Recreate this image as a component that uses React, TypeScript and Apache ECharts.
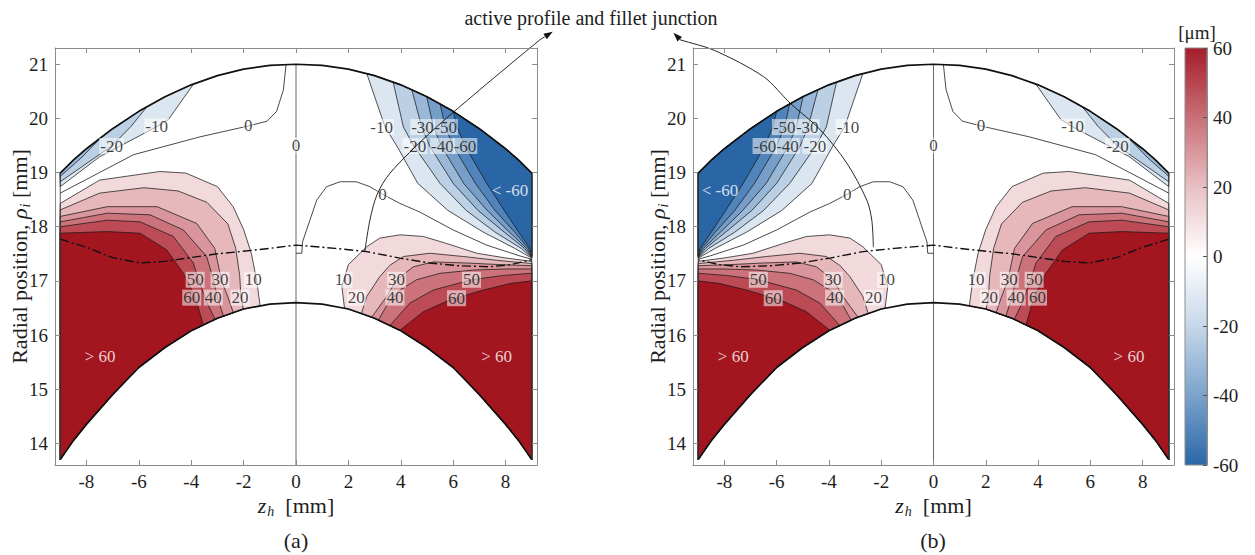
import React, { useEffect, useRef } from 'react';
import * as echarts from 'echarts';

const FONT = 'Liberation Serif';
const INK = '#1e1e1e';
const FRAME = '#8c8c8c';

// ---------- axes ----------
const xTickValues = [-8, -6, -4, -2, 0, 2, 4, 6, 8];
const yTickValues = [14, 15, 16, 17, 18, 19, 20, 21];
const xRange = [-9.2, 9.2];
const yRange = [13.6, 21.3];
const colorbarRange = [-60, 60];
const colorbarStops = ['#a51d2b', '#c96f77', '#e8c0c4', '#ffffff', '#c7d7ea', '#7ba3cb', '#2b67a8'];

// ---------- tooth outline ----------
const topArc = [[-9, 18.99], [-8.5, 19.23], [-8, 19.44], [-7, 19.81], [-6, 20.13], [-5, 20.4], [-4, 20.62], [-3, 20.79], [-2, 20.91], [-1, 20.98], [0, 21.0], [1, 20.98], [2, 20.91], [3, 20.79], [4, 20.62], [5, 20.4], [6, 20.13], [7, 19.81], [8, 19.44], [8.5, 19.23], [9, 18.99]];
const bottomArc = [[-9, 13.7], [-8.5, 14.05], [-8, 14.35], [-7, 14.9], [-6, 15.4], [-5, 15.77], [-4, 16.08], [-3, 16.31], [-2, 16.48], [-1, 16.57], [0, 16.6], [1, 16.57], [2, 16.48], [3, 16.31], [4, 16.08], [5, 15.77], [6, 15.4], [7, 14.9], [8, 14.35], [8.5, 14.05], [9, 13.7]];
const leftEdge = [[-9, 18.99], [-9, 13.7]];
const rightEdge = [[9, 18.99], [9, 13.7]];
const centreLine = [[0, 21.0], [0, 13.6]];

// ---------- contour levels and fills ----------
const redLevels = [10, 20, 30, 40, 50, 60];
const redFills = ['#f2d9dc', '#e6b7bb', '#d9959b', '#cc727a', '#bd4b56', '#a3151f'];
const blueLevels = [-10, -20, -30, -40, -50, -60];
const blueFills = ['#dbe6f1', '#bcd0e5', '#99b8d8', '#769ec9', '#5184ba', '#2a65a6'];

// ---------- panel (a) contour lines ----------
// left flank, positive levels: left edge -> root arc
const aLeftRed10 = [[-9, 18.43], [-7.5, 18.86], [-5.2, 19.02], [-4.2, 18.99], [-3.0, 18.74], [-2.4, 18.37], [-2.0, 17.95], [-1.7, 17.5], [-1.5, 17.0], [-1.37, 16.54]];
const aLeftRed20 = [[-9, 18.31], [-7.5, 18.62], [-5.8, 18.72], [-4.5, 18.66], [-3.4, 18.45], [-2.6, 18.05], [-2.3, 17.6], [-2.15, 17.1], [-2.1, 16.7], [-2.01, 16.48]];
const aLeftRed30 = [[-9, 18.19], [-7.2, 18.37], [-5.3, 18.37], [-3.79, 18.06], [-3.1, 17.6], [-2.85, 17.02], [-2.6, 16.7], [-2.39, 16.41]];
const aLeftRed40 = [[-9, 18.09], [-7.2, 18.25], [-5.57, 18.22], [-4.3, 17.94], [-3.41, 17.45], [-3.15, 17.02], [-3.0, 16.7], [-2.77, 16.35]];
const aLeftRed50 = [[-9, 18.0], [-7.2, 18.12], [-5.95, 18.09], [-4.68, 17.82], [-3.92, 17.33], [-3.72, 17.02], [-3.4, 16.6], [-3.09, 16.29]];
const aLeftRed60 = [[-9, 17.88], [-7.2, 17.91], [-5.95, 17.88], [-4.93, 17.57], [-4.3, 17.14], [-3.85, 16.71], [-3.54, 16.19]];
// left flank, negative levels: left edge -> tip arc
const aLeftBlue10 = [[-9, 18.74], [-7.5, 19.29], [-5.3, 19.85], [-4.87, 19.98], [-4.4, 20.3], [-3.92, 20.63]];
const aLeftBlue20 = [[-9, 18.83], [-7.9, 19.2], [-7.04, 19.49], [-6.3, 19.85], [-5.7, 20.21]];
const aLeftBlue30 = [[-9, 18.93], [-8.2, 19.27], [-7.48, 19.63]];
// right flank, positive levels: root arc -> right edge
const aRightRed10 = [[1.85, 16.5], [1.75, 16.9], [2.0, 17.3], [2.7, 17.63], [3.2, 17.79], [3.97, 17.85], [4.86, 17.82], [5.75, 17.69], [6.9, 17.51], [8.04, 17.42], [9, 17.36]];
const aRightRed20 = [[2.5, 16.4], [2.7, 16.71], [3.2, 17.08], [3.59, 17.29], [4.1, 17.45], [5.11, 17.51], [6.39, 17.45], [7.66, 17.38], [9, 17.32]];
const aRightRed30 = [[2.89, 16.33], [3.46, 16.71], [3.84, 17.02], [4.48, 17.26], [5.24, 17.35], [6.51, 17.33], [7.79, 17.3], [9, 17.28]];
const aRightRed40 = [[3.14, 16.27], [3.59, 16.65], [3.97, 16.83], [4.6, 17.02], [5.5, 17.14], [6.77, 17.2], [8.04, 17.22], [9, 17.22]];
const aRightRed50 = [[3.59, 16.18], [4.35, 16.59], [5.24, 16.83], [6.7, 17.02], [7.91, 17.1], [9, 17.14]];
const aRightRed60 = [[3.97, 16.09], [4.86, 16.43], [5.88, 16.65], [7.15, 16.83], [8.17, 16.95], [9, 17.0]];
// right flank, negative levels: tip arc -> right edge
const aRightBlue10 = [[2.7, 20.83], [3.4, 19.84], [3.85, 19.49], [4.65, 18.8], [5.8, 18.3], [7.15, 17.9], [8.35, 17.6], [9, 17.42]];
const aRightBlue20 = [[3.71, 20.67], [4.1, 19.84], [4.5, 19.49], [5.5, 18.8], [6.5, 18.3], [7.6, 17.9], [8.6, 17.6], [9, 17.43]];
const aRightBlue30 = [[4.42, 20.53], [4.8, 19.84], [5.1, 19.49], [6.0, 18.8], [6.95, 18.3], [7.95, 17.9], [8.72, 17.6], [9, 17.44]];
const aRightBlue40 = [[4.99, 20.4], [5.25, 19.84], [5.55, 19.49], [6.4, 18.8], [7.3, 18.3], [8.15, 17.9], [8.8, 17.6], [9, 17.45]];
const aRightBlue50 = [[5.5, 20.27], [5.7, 19.84], [6.0, 19.49], [6.85, 18.8], [7.6, 18.3], [8.35, 17.9], [8.87, 17.6], [9, 17.46]];
const aRightBlue60 = [[6.0, 20.13], [6.15, 19.84], [6.45, 19.49], [7.28, 18.8], [7.95, 18.3], [8.5, 17.9], [8.93, 17.6], [9, 17.47]];
// zero contours (no fill)
const aZeroLeft = [[-0.38, 20.99], [-0.48, 20.53], [-0.74, 20.13], [-1.1, 19.95], [-1.82, 19.86], [-3.66, 19.66], [-6.2, 19.33], [-9, 18.62]];
const aZeroRight = [[0, 17.51], [0.22, 17.51], [0.25, 17.72], [0.53, 18.12], [0.79, 18.49], [1.17, 18.74], [1.68, 18.83], [2.3, 18.83], [2.82, 18.74], [3.3, 18.6], [3.97, 18.43], [4.73, 18.27], [6.0, 17.94], [7.28, 17.66], [8.55, 17.46], [9, 17.4]];
// active profile / fillet junction (dash-dot)
const aJunction = [[-9, 17.77], [-8, 17.62], [-7, 17.43], [-5.95, 17.33], [-5, 17.36], [-4.17, 17.42], [-3, 17.5], [-2.14, 17.54], [-1, 17.6], [0, 17.66], [1.5, 17.6], [2.7, 17.54], [3.97, 17.42], [5.1, 17.33], [6.2, 17.28], [7.4, 17.26], [8.2, 17.3], [9, 17.39]];
// annotation arrows
const aArrow = [[2.63, 17.55], [2.82, 18.12], [3.1, 18.6], [3.59, 18.99], [5.11, 19.73], [7.02, 20.53], [9.31, 21.45], [9.8, 21.6]];
const bArrow = [[-2.3, 17.62], [-2.36, 18.12], [-2.55, 18.49], [-3.31, 19.17], [-4.33, 19.79], [-5.48, 20.28], [-6.5, 20.77], [-8.4, 21.26], [-9.68, 21.45], [-9.95, 21.58]];

// contour labels of panel (a): [x, y, text]
const aLabels: [number, number, string][] = [
  [-5.32, 19.85, '-10'], [-7.04, 19.49, '-20'], [-1.82, 19.86, '0'], [0, 19.5, '0'],
  [-3.85, 17.02, '50'], [-2.9, 17.02, '30'], [-1.63, 17.02, '10'],
  [-3.98, 16.69, '60'], [-3.16, 16.69, '40'], [-2.14, 16.69, '20'],
  [3.27, 19.84, '-10'], [4.83, 19.84, '-30'], [5.71, 19.84, '-50'],
  [4.54, 19.49, '-20'], [5.59, 19.49, '-40'], [6.45, 19.49, '-60'],
  [3.3, 18.6, '0'], [1.8, 17.02, '10'], [3.84, 17.02, '30'], [6.7, 17.02, '50'],
  [2.3, 16.69, '20'], [3.78, 16.69, '40'], [6.13, 16.68, '60'],
];
const aRegionLabels: [number, number, string][] = [[-7.48, 15.61, '> 60'], [7.66, 15.61, '> 60'], [8.17, 18.67, '< -60']];

// ---------- helpers ----------
type P = number[];
const polyLeft = (line: P[], arc: P[]) => {
  const end = line[line.length - 1][0];
  return [...line, ...arc.filter((p) => p[0] < end).reverse()];
};
const polyRight = (line: P[], arc: P[]) => {
  const start = line[0][0];
  return [...line, ...arc.filter((p) => p[0] > start).reverse()];
};
// panel (b) shows the opposite flank: the same field reflected about z_h = 0
const mirror = (pts: P[]) => pts.map(([x, y]) => [-x, y]);

const aLeftRed = [aLeftRed10, aLeftRed20, aLeftRed30, aLeftRed40, aLeftRed50, aLeftRed60];
const aRightRed = [aRightRed10, aRightRed20, aRightRed30, aRightRed40, aRightRed50, aRightRed60];
const aLeftBlue = [aLeftBlue10, aLeftBlue20, aLeftBlue30];
const aRightBlue = [aRightBlue10, aRightBlue20, aRightBlue30, aRightBlue40, aRightBlue50, aRightBlue60];

const polysA = [
  ...aLeftRed.map((l, i) => ({ pts: polyLeft(l, bottomArc), fill: redFills[i] })),
  ...aRightRed.map((l, i) => ({ pts: polyRight(l, bottomArc), fill: redFills[i] })),
  ...aLeftBlue.map((l, i) => ({ pts: polyLeft(l, topArc), fill: blueFills[i] })),
  ...aRightBlue.map((l, i) => ({ pts: polyRight(l, topArc), fill: blueFills[i] })),
];
const polysB = polysA.map((p) => ({ pts: mirror(p.pts), fill: p.fill }));

const nameRich = {
  i: { fontFamily: FONT, fontStyle: 'italic', fontSize: 22, color: INK },
  s: { fontFamily: FONT, fontStyle: 'italic', fontSize: 14, color: INK, padding: [12, 0, 0, 1] },
  n: { fontFamily: FONT, fontSize: 22, color: INK },
};

function axesFor(g: number) {
  const tick = { show: true, inside: true, length: 5, lineStyle: { color: FRAME, width: 1 } };
  const line = { show: true, onZero: false, lineStyle: { color: FRAME, width: 1 } };
  const x = [
    {
      type: 'value', gridIndex: g, min: xRange[0], max: xRange[1], position: 'bottom', z: 10,
      axisLine: line, axisTick: { ...tick, customValues: xTickValues },
      axisLabel: { customValues: xTickValues, fontFamily: FONT, fontSize: 19, color: INK, margin: 7 },
      splitLine: { show: false },
      name: '{i|z}{s|h}{n|  [mm]}', nameLocation: 'middle', nameGap: 27, nameMoveOverlap: false,
      nameTextStyle: { rich: nameRich },
    },
    {
      type: 'value', gridIndex: g, min: xRange[0], max: xRange[1], position: 'top', z: 10,
      axisLine: line, axisTick: { ...tick, customValues: xTickValues },
      axisLabel: { show: false }, splitLine: { show: false },
    },
  ];
  const y = [
    {
      type: 'value', gridIndex: g, min: yRange[0], max: yRange[1], position: 'left', z: 10,
      axisLine: line, axisTick: { ...tick, customValues: yTickValues },
      axisLabel: { customValues: yTickValues, fontFamily: FONT, fontSize: 19, color: INK, margin: 7 },
      splitLine: { show: false },
      name: '{n|Radial position, }{i|ρ}{s|i}{n| [mm]}', nameLocation: 'middle', nameGap: 23, nameMoveOverlap: false,
      nameTextStyle: { rich: nameRich },
    },
    {
      type: 'value', gridIndex: g, min: yRange[0], max: yRange[1], position: 'right', z: 10,
      axisLine: line, axisTick: { ...tick, customValues: yTickValues },
      axisLabel: { show: false }, splitLine: { show: false },
    },
  ];
  return { x, y };
}

function seriesFor(g: number, polys: { pts: P[]; fill: string }[], flip: boolean, arrow: P[]) {
  const t = (pts: P[]) => (flip ? mirror(pts) : pts);
  const ax = { xAxisIndex: g * 2, yAxisIndex: g * 2 };
  const lineS = (pts: P[], width: number, color: string, z: number, dash?: any) => ({
    type: 'line', ...ax, data: pts, showSymbol: false, symbol: 'none', silent: true, z,
    lineStyle: { width, color, type: dash || 'solid' },
  });
  const labels = aLabels.map(([x, y, s]) => ({ value: [flip ? -x : x, y], name: s }));
  const regionLabels = aRegionLabels.map(([x, y, s]) => ({ value: [flip ? -x : x, y], name: s }));
  return [
    {
      type: 'custom', ...ax, silent: true, z: 2,
      data: polys.map((_, i) => [i]),
      renderItem: (params: any, api: any) => {
        const p = polys[params.dataIndex];
        return {
          type: 'polygon',
          shape: { points: p.pts.map((q) => api.coord(q)) },
          style: { fill: p.fill, stroke: '#1a1a1a', lineWidth: 0.75 },
        };
      },
    },
    lineS(t(aZeroLeft), 0.8, '#1a1a1a', 3),
    lineS(t(aZeroRight), 0.8, '#1a1a1a', 3),
    lineS(centreLine, 0.8, '#444', 3),
    lineS(t(aJunction), 1.4, '#111', 4, [9, 3, 2, 3]),
    lineS(topArc, 1.7, '#111', 4),
    lineS(bottomArc, 1.7, '#111', 4),
    lineS(leftEdge, 0.8, '#333', 4),
    lineS(rightEdge, 0.8, '#333', 4),
    {
      type: 'scatter', ...ax, data: labels, symbolSize: 1, silent: true, z: 8,
      itemStyle: { color: 'rgba(0,0,0,0)' },
      label: {
        show: true, position: 'inside', formatter: (p: any) => p.name,
        fontFamily: FONT, fontSize: 17, color: '#151515',
        backgroundColor: 'rgba(255,255,255,0.68)', padding: [0, 1, -1, 1],
      },
      labelLayout: { hideOverlap: false },
    },
    {
      type: 'scatter', ...ax, data: regionLabels, symbolSize: 1, silent: true, z: 8,
      itemStyle: { color: 'rgba(0,0,0,0)' },
      label: { show: true, position: 'inside', formatter: (p: any) => p.name, fontFamily: FONT, fontSize: 17, color: '#ffffff' },
    },
    {
      type: 'custom', ...ax, silent: true, z: 9, clip: false,
      data: [[0]],
      renderItem: (_params: any, api: any) => {
        const pts = arrow.map((q) => api.coord(q));
        const P1 = pts[pts.length - 1];
        const P0 = pts[pts.length - 2];
        const dx = P1[0] - P0[0];
        const dy = P1[1] - P0[1];
        const L = Math.hypot(dx, dy) || 1;
        const ux = dx / L;
        const uy = dy / L;
        const hl = 9;
        const hw = 3.2;
        const bx = P1[0] - ux * hl;
        const by = P1[1] - uy * hl;
        const body = pts.slice(0, -1).concat([[bx, by]]);
        return {
          type: 'group',
          children: [
            { type: 'polyline', shape: { points: body, smooth: 0.3 }, style: { stroke: '#111', lineWidth: 0.9, fill: null } },
            { type: 'polygon', shape: { points: [P1, [bx - uy * hw, by + ux * hw], [bx + uy * hw, by - ux * hw]] }, style: { fill: '#111' } },
          ],
        };
      },
    },
  ];
}

function buildOption() {
  const a = axesFor(0);
  const b = axesFor(1);
  const txt = (text: string, x: number, y: number, size: number) => ({
    type: 'text', x, y,
    style: { text, fontFamily: FONT, fontSize: size, fill: INK, align: 'center', verticalAlign: 'middle', textAlign: 'center', textVerticalAlign: 'middle' },
  });
  return {
    animation: false,
    backgroundColor: '#ffffff',
    textStyle: { fontFamily: FONT },
    grid: [
      { left: 55, top: 48, width: 482, height: 417 },
      { left: 693, top: 48, width: 481, height: 417 },
      { left: 1185, top: 48, width: 22, height: 417 },
    ],
    xAxis: [
      ...a.x, ...b.x,
      { type: 'value', gridIndex: 2, min: 0, max: 1, show: false },
    ],
    yAxis: [
      ...a.y, ...b.y,
      {
        type: 'value', gridIndex: 2, min: colorbarRange[0], max: colorbarRange[1], interval: 20, position: 'right', z: 10,
        axisLine: { show: true, onZero: false, lineStyle: { color: FRAME } },
        axisTick: { show: true, inside: true, length: 4, lineStyle: { color: '#555' } },
        axisLabel: { fontFamily: FONT, fontSize: 19, color: INK, margin: 6 },
        splitLine: { show: false },
      },
    ],
    series: [
      ...seriesFor(0, polysA, false, aArrow),
      ...seriesFor(1, polysB, true, bArrow),
      {
        type: 'custom', xAxisIndex: 4, yAxisIndex: 4, silent: true, z: 2,
        data: [[0.5, 0]],
        renderItem: (params: any, api: any) => {
          const cs = params.coordSys;
          const top = api.coord([0, colorbarRange[1]])[1];
          const bot = api.coord([0, colorbarRange[0]])[1];
          return {
            type: 'rect',
            shape: { x: cs.x, y: top, width: cs.width, height: bot - top },
            style: {
              fill: new echarts.graphic.LinearGradient(0, 0, 0, 1,
                colorbarStops.map((c, i) => ({ offset: i / (colorbarStops.length - 1), color: c }))),
              stroke: FRAME, lineWidth: 1,
            },
          };
        },
      },
    ],
    graphic: [
      txt('active profile and fillet junction', 591, 18, 20),
      txt('[μm]', 1197, 32, 19),
      txt('(a)', 296, 540, 22),
      txt('(b)', 933, 540, 22),
    ],
  };
}

export default function App() {
  const ref = useRef<HTMLDivElement>(null);
  useEffect(() => {
    if (!ref.current) return;
    const chart = echarts.init(ref.current, undefined, { renderer: 'svg' });
    chart.setOption(buildOption() as any);
    return () => chart.dispose();
  }, []);
  return <div ref={ref} style={{ position: 'fixed', left: 0, top: 0, width: 1255, height: 555, background: '#fff' }} />;
}
